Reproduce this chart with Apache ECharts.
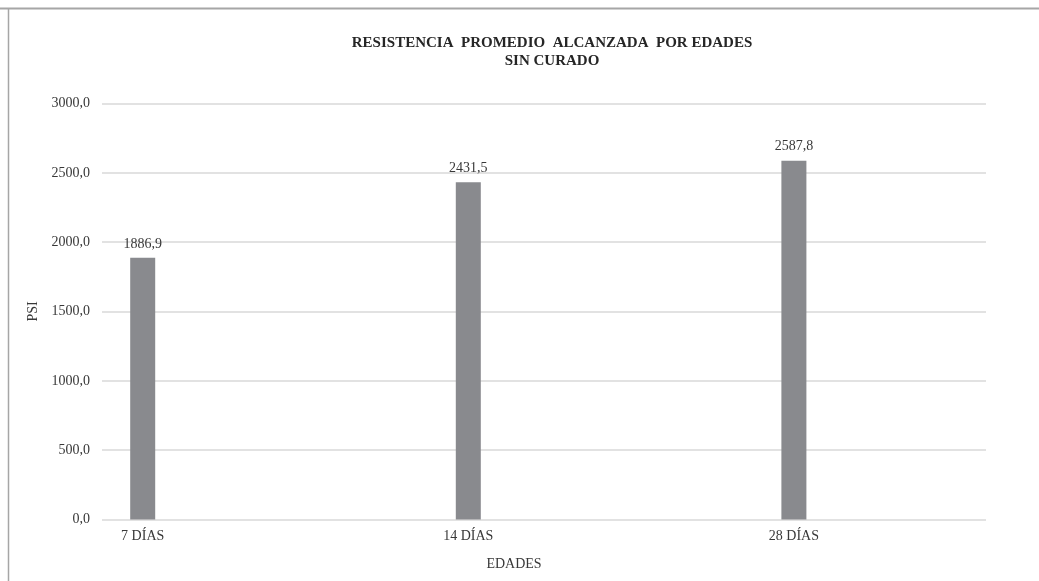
<!DOCTYPE html>
<html>
<head>
<meta charset="utf-8">
<script src="https://cdn.jsdelivr.net/npm/echarts@6/dist/echarts.min.js"></script>
<style>
  html, body { margin: 0; padding: 0; background: #ffffff; }
  #chart { width: 1039px; height: 581px; }
</style>
</head>
<body>
<div id="chart"></div>
<script>
// Edades de ensayo y resistencia promedio (PSI), probetas sin curado
const categories = ['7 DÍAS', '14 DÍAS', '28 DÍAS'];
const resistencia = [1886.9, 2431.5, 2587.8];
const yTicks = [0, 500, 1000, 1500, 2000, 2500, 3000];

const fmt = v => v.toFixed(1).replace('.', ',');
const serif = '"Liberation Serif", "DejaVu Serif", serif';
const textColor = '#383838';

const chart = echarts.init(document.getElementById('chart'), null, { renderer: 'canvas' });

chart.setOption({
  animation: false,
  backgroundColor: '#ffffff',
  title: {
    text: 'RESISTENCIA  PROMEDIO  ALCANZADA  POR EDADES\nSIN CURADO',
    left: 547,
    top: 29,
    textAlign: 'center',
    textStyle: {
      fontFamily: serif,
      fontSize: 15,
      fontWeight: 'bold',
      color: '#262626',
      lineHeight: 18
    }
  },
  graphic: [
    { type: 'line', shape: { x1: 0, y1: 8.5, x2: 1039, y2: 8.5 }, style: { stroke: '#a6a6a6', lineWidth: 2 } },
    { type: 'line', shape: { x1: 8.5, y1: 8, x2: 8.5, y2: 581 }, style: { stroke: '#a6a6a6', lineWidth: 1.5 } }
  ],
  grid: { left: 102, right: 53, top: 103.5, bottom: 61.5 },
  xAxis: {
    type: 'value',
    min: -0.125,
    max: 2.59,
    name: 'EDADES',
    nameLocation: 'middle',
    nameGap: 38,
    nameTextStyle: { fontFamily: serif, fontSize: 14, color: textColor, padding: [0, 60, 0, 0] },
    axisLine: { show: false },
    axisTick: { show: false },
    splitLine: { show: false },
    axisLabel: {
      customValues: [0, 1, 2],
      formatter: v => categories[Math.round(v)],
      fontFamily: serif,
      fontSize: 14,
      color: textColor,
      margin: 10
    }
  },
  yAxis: {
    type: 'value',
    min: yTicks[0],
    max: yTicks[yTicks.length - 1],
    interval: 500,
    name: 'PSI',
    nameLocation: 'middle',
    nameRotate: 90,
    nameGap: 58,
    nameTextStyle: { fontFamily: serif, fontSize: 14, color: textColor },
    axisLine: { show: false },
    axisTick: { show: false },
    splitLine: { lineStyle: { color: '#d9d9d9', width: 1.5 } },
    axisLabel: {
      formatter: v => fmt(v),
      fontFamily: serif,
      fontSize: 14,
      color: textColor,
      margin: 12
    }
  },
  series: [{
    type: 'bar',
    barWidth: 25,
    data: resistencia.map((v, i) => [i, v]),
    itemStyle: { color: '#898a8e' },
    label: {
      show: true,
      position: 'top',
      distance: 7,
      formatter: p => fmt(p.value[1]),
      fontFamily: serif,
      fontSize: 14,
      color: textColor
    }
  }]
});
</script>
</body>
</html>
